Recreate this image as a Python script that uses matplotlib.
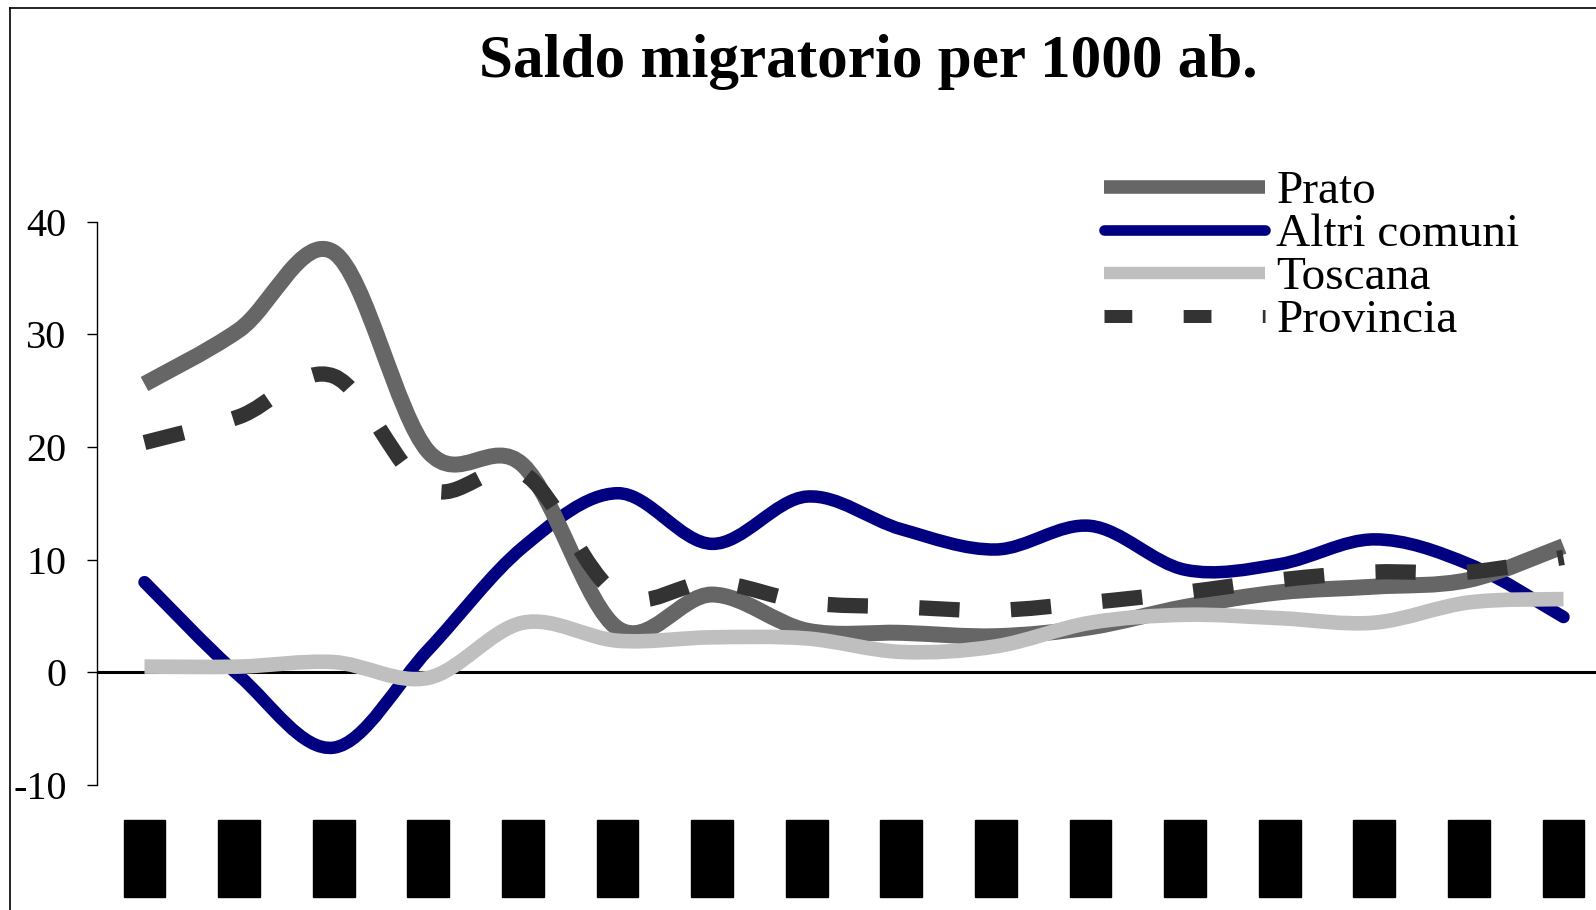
import matplotlib
matplotlib.use("Agg")
import matplotlib.pyplot as plt
from matplotlib.path import Path
from matplotlib.patches import PathPatch
from matplotlib.lines import Line2D

plt.rcParams['font.family'] = ['Liberation Serif', 'DejaVu Serif']
plt.rcParams['axes.unicode_minus'] = False
plt.rcParams['lines.scale_dashes'] = False

# ---- data ----
years = [str(y) for y in range(1986, 2002)]
prato = [25.6, 30.4, 37.3, 19.6, 18.4, 3.9, 6.9, 3.7, 3.5, 3.2, 4.0, 5.8, 7.1, 7.6, 8.2, 11.2]
altri = [8.0, -0.3, -6.7, 2.0, 11.1, 15.9, 11.4, 15.6, 12.7, 10.9, 13.0, 9.1, 9.6, 11.8, 9.6, 4.9]
toscana = [0.5, 0.5, 0.9, -0.5, 4.4, 2.8, 3.1, 3.0, 1.8, 2.3, 4.4, 5.1, 4.8, 4.4, 6.2, 6.5]
provincia = [20.4, 22.7, 26.3, 16.3, 17.7, 6.9, 8.0, 6.2, 5.8, 5.5, 6.2, 7.1, 8.2, 8.9, 8.9, 10.2]
series_names = ['Prato', 'Altri comuni', 'Toscana', 'Provincia']
yticks = [-10, 0, 10, 20, 30, 40]
title = 'Saldo migratorio per 1000 ab.'


def smooth_path(xs, ys):
    n = len(xs)
    verts = [(xs[0], ys[0])]
    codes = [Path.MOVETO]
    for i in range(n - 1):
        x0, y0 = (xs[i - 1], ys[i - 1]) if i > 0 else (xs[i], ys[i])
        x3, y3 = (xs[i + 2], ys[i + 2]) if i + 2 < n else (xs[i + 1], ys[i + 1])
        c1 = (xs[i] + (xs[i + 1] - x0) / 6.0, ys[i] + (ys[i + 1] - y0) / 6.0)
        c2 = (xs[i + 1] - (x3 - xs[i]) / 6.0, ys[i + 1] - (y3 - ys[i]) / 6.0)
        verts += [c1, c2, (xs[i + 1], ys[i + 1])]
        codes += [Path.CURVE4] * 3
    return Path(verts, codes)


W, H = 1596, 910
fig = plt.figure(figsize=(W / 100, H / 100), dpi=100)
fig.patch.set_facecolor('white')

ax = fig.add_axes([97.2 / W, 125.2 / H, 1513.6 / W, 562.9 / H])
ax.set_xlim(-0.5, 15.5)
ax.set_ylim(-10, 40)
ax.set_facecolor('none')

x = list(range(len(years)))

styles = {
    'Prato': dict(color='#666666', lw=11.5, ls='-', z=4),
    'Altri comuni': dict(color='#000080', lw=9, ls='-', z=3),
    'Toscana': dict(color='#bfbfbf', lw=10.5, ls='-', z=5),
    'Provincia': dict(color='#333333', lw=11, ls=(0, (29, 37)), z=6),
}
data = {'Prato': prato, 'Altri comuni': altri, 'Toscana': toscana, 'Provincia': provincia}

handles = []
for name in series_names:
    st = styles[name]
    p = PathPatch(smooth_path(x, data[name]), fill=False, edgecolor=st['color'],
                  lw=st['lw'], linestyle=st['ls'], zorder=st['z'],
                  capstyle='round' if name == 'Altri comuni' else 'butt',
                  joinstyle='round')
    ax.add_patch(p)
    handles.append(Line2D([], [], color=st['color'], lw=st['lw'] * 0.85,
                          ls=(0, (20, 37)) if name == 'Provincia' else '-',
                          solid_capstyle='round' if name == 'Altri comuni' else 'butt',
                          dash_capstyle='butt'))

# axes styling
for s in ['top', 'right', 'bottom']:
    ax.spines[s].set_visible(False)
ax.spines['left'].set_linewidth(1.0)
ax.axhline(0, color='black', lw=2.2, zorder=2.5)
ax.set_yticks(yticks)
ax.set_yticklabels([str(v) for v in yticks], fontsize=29)
ax.tick_params(axis='y', direction='out', length=7, width=1.0, pad=15)

ax.set_xticks(x)
ax.set_xticklabels(years, rotation=90, fontsize=23, color='black', va='top',
                   bbox=dict(boxstyle='square,pad=0.2', fc='black', ec='black'))
ax.tick_params(axis='x', length=0, pad=30)

# title
fig.text(868 / W, 1 - 77 / H, title, ha='center', va='baseline',
         fontsize=44, fontweight='bold')

# legend
leg = fig.legend(handles, series_names, loc='upper left',
                 bbox_to_anchor=(1104 / W, 1 - 170 / H), frameon=False,
                 fontsize=34, handlelength=3.4, handletextpad=0.25,
                 labelspacing=0.0, borderpad=0, borderaxespad=0)

# outer chart border (left and top)
fig.add_artist(Line2D([10 / W, 10 / W], [0, 1 - 8 / H], transform=fig.transFigure,
                      color='black', lw=1.2))
fig.add_artist(Line2D([10 / W, 1], [1 - 8 / H, 1 - 8 / H], transform=fig.transFigure,
                      color='black', lw=1.2))

fig.savefig('out.png', dpi=100, facecolor='white')
